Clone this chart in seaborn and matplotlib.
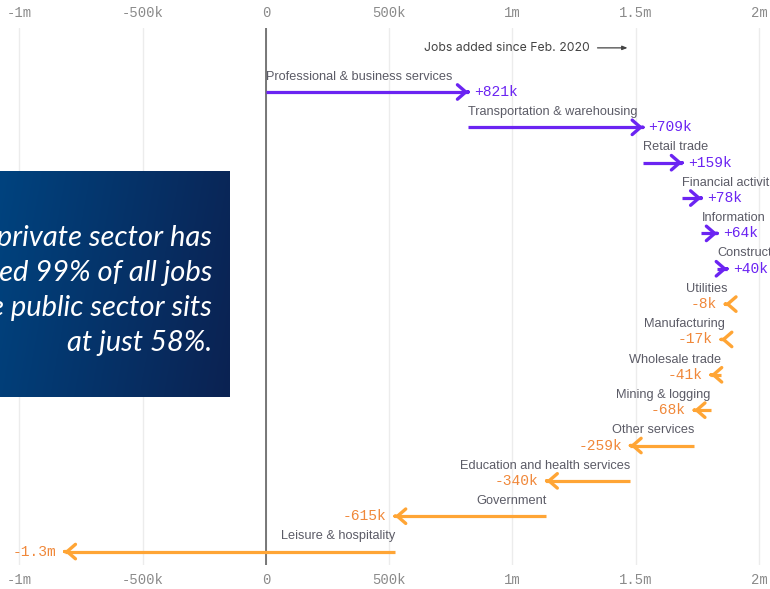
"""
Jobs added since Feb. 2020 by sector, drawn as a running waterfall of arrows.
"""

import numpy as np
import pandas as pd
import matplotlib.pyplot as plt
import seaborn as sns
from matplotlib.colors import LinearSegmentedColormap

# data (thousands of jobs)
sectors = [
    "Professional & business services",
    "Transportation & warehousing",
    "Retail trade",
    "Financial activities",
    "Information",
    "Construction",
    "Utilities",
    "Manufacturing",
    "Wholesale trade",
    "Mining & logging",
    "Other services",
    "Education and health services",
    "Government",
    "Leisure & hospitality",
]
changes = [821, 709, 159, 78, 64, 40, -8, -17, -41, -68, -259, -340, -615, -1340]
tick_values = [-1000, -500, 0, 500, 1000, 1500, 2000]
tick_labels = ["-1m", "-500k", "0", "500k", "1m", "1.5m", "2m"]
legend_text = "Jobs added since Feb. 2020"
callout_lines = [
    "While the private sector has",
    "recovered 99% of all jobs",
    "lost, while the public sector sits",
    "at just 58%.",
]

PURPLE = "#6b24f2"
ORANGE = "#ffa535"
ORANGE_TXT = "#f0883a"
LABEL_GREY = "#5b5b66"
TICK_GREY = "#8a8a8a"


def fmt_change(v):
    sign = "+" if v > 0 else "-"
    if abs(v) >= 1000:
        return f"{sign}{abs(v) / 1000:.1f}m"
    return f"{sign}{abs(v)}k"


ends = np.cumsum(changes)
starts = ends - np.array(changes)
rows = np.arange(len(sectors))

df = pd.DataFrame({
    "sector": sectors,
    "row": rows,
    "start": starts,
    "end": ends,
    "change": changes,
})
df["direction"] = np.where(df["change"] > 0, "up", "down")

long_df = pd.concat([
    df.assign(x=df["start"]),
    df.assign(x=df["end"]),
]).sort_values(["row", "x"])

sns.set_theme(style="white")
plt.rcParams["font.family"] = ["Liberation Sans", "DejaVu Sans"]

fig = plt.figure(figsize=(7.7, 5.89), dpi=100)
ax = fig.add_axes([0, 24 / 589, 1, 537 / 589])

# shafts
sns.lineplot(
    data=long_df, x="x", y="row", hue="direction", units="sector",
    estimator=None, sort=False, palette={"up": PURPLE, "down": ORANGE},
    linewidth=2.3, legend=False, ax=ax, solid_capstyle="butt",
)

# heads and labels
for _, r in df.iterrows():
    up = r["change"] > 0
    color = PURPLE if up else ORANGE
    step = 1 if up else -1
    ax.annotate(
        "", xy=(r["end"], r["row"]), xytext=(r["end"] - step * 1, r["row"]),
        arrowprops=dict(arrowstyle="->,head_length=0.3,head_width=0.26",
                        color=color, lw=2.4, mutation_scale=20,
                        shrinkA=0, shrinkB=0),
    )
    ax.annotate(
        fmt_change(r["change"]), xy=(r["end"], r["row"]),
        xytext=(4 if up else -6, 0), textcoords="offset points",
        ha="left" if up else "right", va="center",
        fontsize=10.5, family="Liberation Mono",
        color=PURPLE if up else ORANGE_TXT,
    )
    ax.annotate(
        r["sector"], xy=(r["start"], r["row"]),
        xytext=(0, 11), textcoords="offset points",
        ha="left" if up else "right", va="center",
        fontsize=9.2, color=LABEL_GREY,
    )

ax.axvline(0, color="#555555", lw=1.1, zorder=1)

# legend-like note
ax.annotate(
    legend_text, xy=(0.766, 0.963), xycoords="axes fraction",
    ha="right", va="center", fontsize=8.8, family="Inter", color="#444444",
)
ax.annotate(
    "", xy=(0.815, 0.963), xytext=(0.776, 0.963), xycoords="axes fraction",
    arrowprops=dict(arrowstyle="-|>,head_length=0.3,head_width=0.12",
                    color="#444444", lw=0.9, mutation_scale=10,
                    shrinkA=0, shrinkB=0),
)

ax.set_xlim(-1079, 2045)
ax.set_ylim(13.38, -1.81)
ax.set_xticks(tick_values)
ax.set_xticklabels(tick_labels, family="Liberation Mono", fontsize=10, color=TICK_GREY)
ax.set_yticks([])
ax.tick_params(axis="x", length=0, pad=6, top=True, labeltop=True, bottom=True, labelbottom=True)
ax.grid(axis="x", color="#ececec", lw=1)
ax.set_axisbelow(True)
ax.set_xlabel("")
ax.set_ylabel("")
sns.despine(ax=ax, left=True, bottom=True)

# callout box
box = fig.add_axes([0, 1 - 397 / 589, 230 / 770, 226 / 589])
cmap = LinearSegmentedColormap.from_list("box", ["#00437f", "#0b2252"])
grad = np.linspace(0, 1, 256)[None, :] * 0.85 + np.linspace(0, 0.15, 64)[:, None]
box.imshow(grad, cmap=cmap, aspect="auto", extent=[0, 1, 0, 1], vmin=0, vmax=1)
box.set_axis_off()
box.text(
    0.922, 0.472, "\n".join(callout_lines), transform=box.transAxes,
    ha="right", va="center", multialignment="right",
    fontsize=21, family="Lato", style="italic", weight="normal",
    color="white", linespacing=1.43,
)

fig.savefig("out.png", dpi=100)
plt.close(fig)
